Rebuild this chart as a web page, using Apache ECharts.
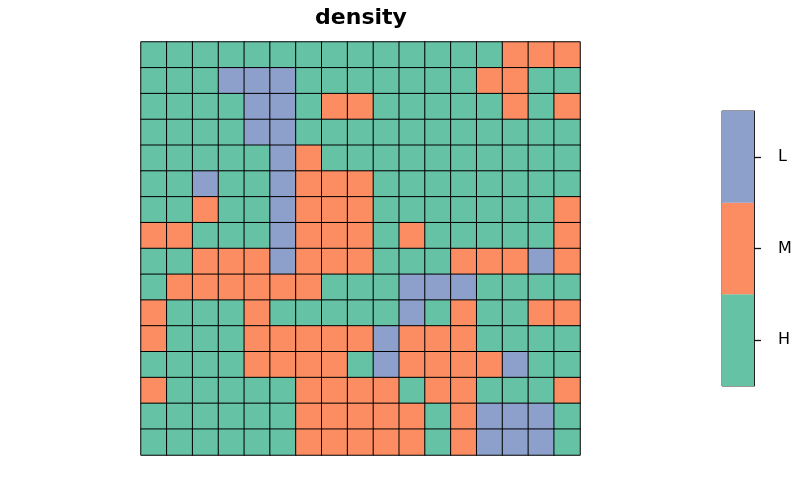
<!DOCTYPE html>
<html>
<head>
<meta charset="utf-8">
<script src="https://cdn.jsdelivr.net/npm/echarts@6/dist/echarts.min.js"></script>
<style>
  html, body { margin: 0; padding: 0; background: #fff; }
  #main { width: 799px; height: 494px; }
</style>
</head>
<body>
<div id="main"></div>
<script>
// density class per cell, one string per row (top to bottom), 17 columns
const levels = ['H', 'M', 'L']
const levelColors = ['#66c2a5', '#fc8d62', '#8da0cb']
const rows = [
  'HHHHHHHHHHHHHHMMM',
  'HHHLLLHHHHHHHMMHH',
  'HHHHLLHMMHHHHHMHM',
  'HHHHLLHHHHHHHHHHH',
  'HHHHHLMHHHHHHHHHH',
  'HHLHHLMMMHHHHHHHH',
  'HHMHHLMMMHHHHHHHM',
  'MMHHHLMMMHMHHHHHM',
  'HHMMMLMMMHHHMMMLM',
  'HMMMMMMHHHLLLHHHH',
  'MHHHMHHHHHLHMHHMM',
  'MHHHMMMMMLMMMHHHH',
  'HHHHMMMMHLMMMMLHH',
  'MHHHHHMMMMHMMHHHM',
  'HHHHHHMMMMMHMLLLH',
  'HHHHHHMMMMMHMLLLH'
]
const cols = []
for (let i = 1; i <= 17; i++) cols.push(String(i))
const rowNames = rows.map((r, i) => String(i + 1))

const cells = []
rows.forEach((r, y) => {
  r.split('').forEach((c, x) => {
    const v = levels.indexOf(c)
    cells.push({ value: [x, y, v], itemStyle: { color: levelColors[v] } })
  })
})

const chart = echarts.init(document.getElementById('main'))
chart.setOption({
  animation: false,
  title: {
    text: 'density',
    left: 356,
    textAlign: 'center',
    top: 2,
    textStyle: { fontFamily: 'DejaVu Sans', fontWeight: 'bold', fontSize: 22, color: '#000' }
  },
  grid: [
    { left: 141, right: 219, top: 42, bottom: 39 },
    { left: 722, width: 32, top: 111, height: 275, show: true, borderColor: '#333', borderWidth: 1, backgroundColor: 'transparent' }
  ],
  xAxis: [
    { type: 'category', data: cols, gridIndex: 0, show: false },
    { type: 'value', gridIndex: 1, min: 0, max: 1, show: false }
  ],
  yAxis: [
    { type: 'category', data: rowNames, gridIndex: 0, inverse: true, show: false },
    {
      type: 'category', data: levels, gridIndex: 1, position: 'right',
      axisLine: { show: true, onZero: false, lineStyle: { color: '#222' } },
      axisTick: { show: true, inside: false, length: 7, alignWithLabel: true, lineStyle: { color: '#111', width: 1.3 } },
      axisLabel: { margin: 24, fontSize: 16, fontFamily: 'DejaVu Sans', color: '#000' }
    }
  ],
  series: [
    {
      type: 'heatmap',
      xAxisIndex: 0, yAxisIndex: 0,
      data: cells,
      itemStyle: { borderColor: '#000', borderWidth: 1 }
    },
    {
      type: 'bar',
      xAxisIndex: 1, yAxisIndex: 1,
      barWidth: '100%',
      data: levels.map((l, i) => ({ value: 1, itemStyle: { color: levelColors[i] } }))
    }
  ]
})
</script>
</body>
</html>
